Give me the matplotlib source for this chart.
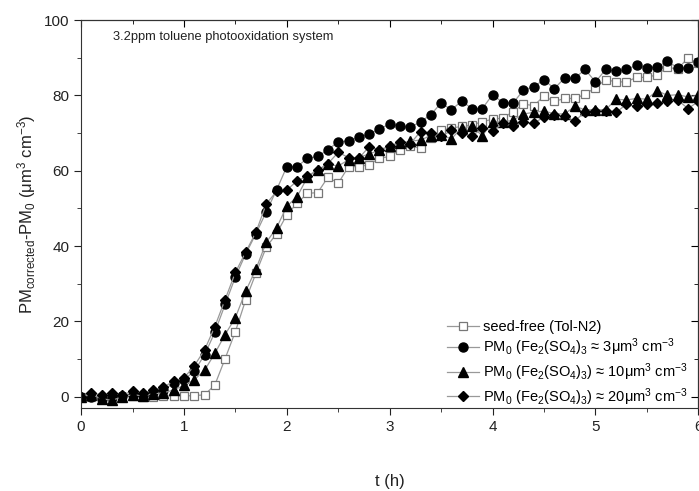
import matplotlib
matplotlib.use("Agg")
import matplotlib.pyplot as plt
from matplotlib.ticker import MultipleLocator
import numpy as np

plt.rcParams['font.family'] = ['Liberation Sans', 'DejaVu Sans']
plt.rcParams['mathtext.fontset'] = 'custom'
plt.rcParams['mathtext.rm'] = 'Liberation Sans'
plt.rcParams['mathtext.it'] = 'Liberation Sans:italic'

# time axis, 0.1 h steps
t_h = np.round(np.arange(61) * 0.1, 1)

seed_free = [0.0, 0.0, -0.3, 0.0, 0.0, 0.2, 0.0, 0.0, 0.2, 0.2,
             0.2, 0.3, 0.5, 3.1, 10.1, 17.3, 25.7, 32.8, 39.7, 43.3,
             48.3, 51.4, 54.0, 54.2, 58.3, 56.7, 61.1, 61.1, 61.6, 63.3,
             63.8, 65.6, 66.6, 66.0, 68.7, 70.8, 71.3, 71.8, 72.2, 73.0,
             73.7, 74.0, 75.7, 77.7, 77.3, 79.8, 78.4, 79.2, 79.2, 80.3,
             82.1, 84.2, 83.6, 83.6, 84.8, 84.8, 85.5, 87.5, 87.0, 90.0,
             88.5]
pm0_3 = [0.0, 0.0, -0.5, 0.0, 0.2, 0.5, 0.5, 1.2, 1.8, 3.6,
         4.5, 6.8, 11.1, 17.1, 24.5, 31.8, 37.9, 43.3, 49.1, 54.9,
         61.1, 61.1, 63.3, 63.8, 65.6, 67.7, 67.9, 68.9, 69.7, 71.1,
         72.4, 71.9, 71.5, 73.0, 74.9, 78.0, 76.2, 78.5, 76.5, 76.5,
         80.2, 78.1, 78.0, 81.4, 82.3, 84.2, 81.8, 84.6, 84.6, 86.9,
         83.6, 86.9, 86.4, 86.9, 88.0, 87.3, 87.6, 89.1, 87.3, 87.3,
         88.9]
pm0_10 = [0.0, 0.5, -0.5, -1.0, 0.0, 0.5, 0.3, 0.8, 1.0, 1.8,
          3.0, 4.5, 7.0, 11.5, 16.5, 21.0, 28.0, 33.9, 41.0, 44.8,
          50.6, 53.1, 58.3, 60.2, 61.7, 61.3, 62.9, 63.5, 64.5, 65.4,
          66.5, 67.4, 67.8, 68.2, 69.3, 69.5, 68.5, 71.4, 71.8, 69.3,
          73.0, 73.0, 73.4, 75.1, 75.5, 75.9, 75.1, 75.1, 77.1, 76.2,
          76.2, 76.2, 79.0, 78.8, 79.2, 79.0, 81.3, 80.0, 80.2, 79.6,
          80.0]
pm0_20 = [0.0, 1.0, 0.5, 1.0, 0.5, 1.5, 1.0, 1.7, 2.5, 4.2,
          5.0, 8.2, 12.4, 18.6, 25.8, 33.0, 38.4, 43.7, 51.2, 54.5,
          54.9, 57.3, 58.6, 60.2, 61.9, 64.9, 63.5, 63.3, 66.4, 65.6,
          66.5, 67.7, 67.2, 70.4, 69.9, 69.1, 70.7, 70.1, 69.1, 71.4,
          70.5, 72.6, 71.8, 72.9, 72.6, 74.3, 74.8, 74.5, 73.2, 75.7,
          75.9, 75.9, 75.5, 77.6, 77.1, 77.6, 78.0, 78.4, 78.8, 76.5,
          78.4]

labels = ['seed-free (Tol-N2)',
          r'PM$_0$ (Fe$_2$(SO$_4$)$_3$ ≈ 3μm$^3$ cm$^{-3}$',
          r'PM$_0$ (Fe$_2$(SO$_4$)$_3$) ≈ 10μm$^3$ cm$^{-3}$',
          r'PM$_0$ (Fe$_2$(SO$_4$)$_3$) ≈ 20μm$^3$ cm$^{-3}$']

fig = plt.figure(figsize=(6.99, 4.91), dpi=100)
ax = fig.add_axes([0.116, 0.169, 0.883, 0.790])

line_kw = dict(color='#999999', linewidth=0.9)
ax.plot(t_h, seed_free, marker='s', markersize=5.5, markerfacecolor='white',
        markeredgecolor='#777777', markeredgewidth=0.9, label=labels[0], **line_kw)
ax.plot(t_h, pm0_3, marker='o', markersize=6.5, markerfacecolor='black',
        markeredgecolor='black', label=labels[1], **line_kw)
ax.plot(t_h, pm0_10, marker='^', markersize=6.5, markerfacecolor='black',
        markeredgecolor='black', label=labels[2], **line_kw)
ax.plot(t_h, pm0_20, marker='D', markersize=5.5, markerfacecolor='black',
        markeredgecolor='black', label=labels[3], **line_kw)

ax.set_xlim(0, 6)
ax.set_ylim(-3, 100)
ax.xaxis.set_major_locator(MultipleLocator(1))
ax.xaxis.set_minor_locator(MultipleLocator(0.5))
ax.yaxis.set_major_locator(MultipleLocator(20))
ax.yaxis.set_minor_locator(MultipleLocator(10))
ax.tick_params(which='both', direction='out', labelsize=11, colors='#222222')
ax.tick_params(which='major', length=5)
ax.tick_params(which='minor', length=3)

top = ax.secondary_xaxis('top')
top.xaxis.set_major_locator(MultipleLocator(1))
top.xaxis.set_minor_locator(MultipleLocator(0.5))
top.tick_params(which='both', direction='in', labeltop=False)
top.tick_params(which='major', length=5)
top.tick_params(which='minor', length=3)
right = ax.secondary_yaxis('right')
right.yaxis.set_major_locator(MultipleLocator(20))
right.yaxis.set_minor_locator(MultipleLocator(10))
right.tick_params(which='both', direction='in', labelright=False)
right.tick_params(which='major', length=5)
right.tick_params(which='minor', length=3)

for sp in ax.spines.values():
    sp.set_color('#333333')

ax.set_xlabel('t (h)', fontsize=12, color='#222222', labelpad=29)
ax.set_ylabel(r'PM$_{\mathrm{corrected}}$-PM$_0$ (μm$^3$ cm$^{-3}$)', fontsize=12,
              color='#222222')

ax.text(0.31, 95.5, '3.2ppm toluene photooxidation system', fontsize=9.3,
        color='#222222', ha='left', va='center')

ax.legend(loc='lower right', bbox_to_anchor=(1.0, -0.025), frameon=False,
          fontsize=10.5, handlelength=2.2, handletextpad=0.3,
          labelspacing=0.2, borderaxespad=0.3)

fig.savefig('out.png', dpi=100)
